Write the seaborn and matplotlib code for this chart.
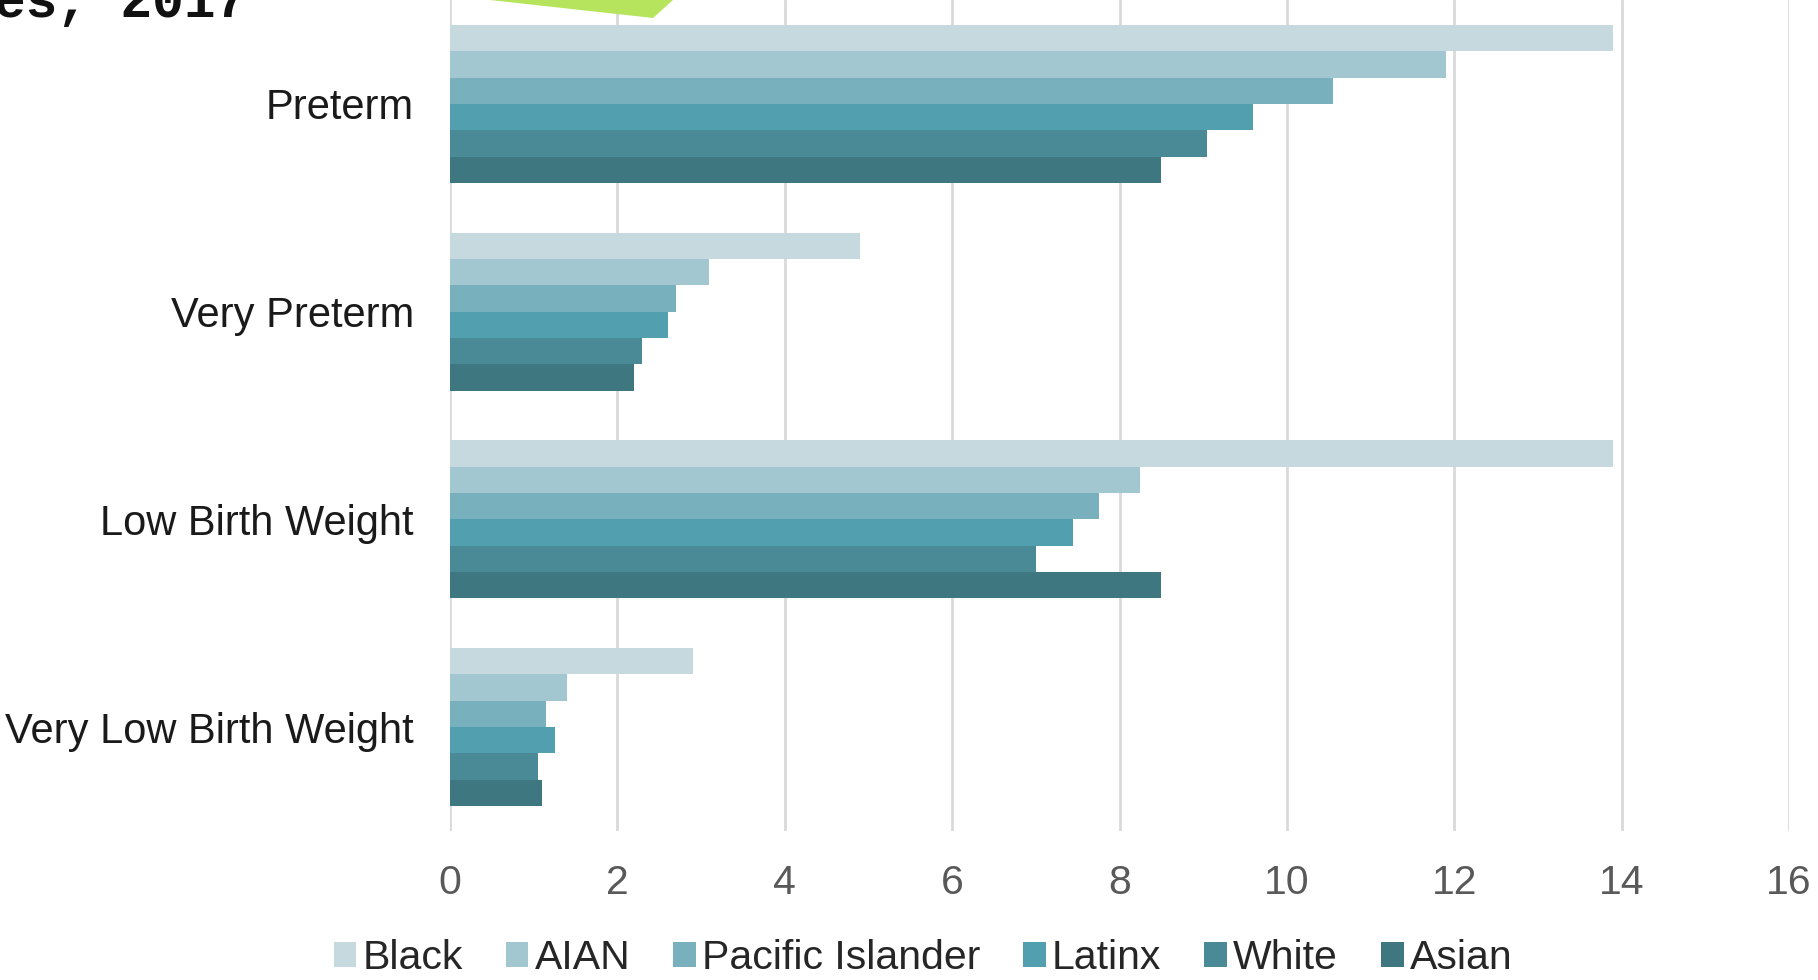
import numpy as np
import pandas as pd
import matplotlib
matplotlib.use("Agg")
import matplotlib.pyplot as plt
from matplotlib.patches import Polygon
import seaborn as sns

# Birth outcome rates (%) by race/ethnicity
outcomes = ["Preterm", "Very Preterm", "Low Birth Weight", "Very Low Birth Weight"]
races = ["Black", "AIAN", "Pacific Islander", "Latinx", "White", "Asian"]

black = [13.9, 4.9, 13.9, 2.9]
aian = [11.9, 3.1, 8.25, 1.4]
pacific_islander = [10.55, 2.7, 7.75, 1.15]
latinx = [9.6, 2.6, 7.45, 1.25]
white = [9.05, 2.3, 7.0, 1.05]
asian = [8.5, 2.2, 8.5, 1.1]

x_ticks = [0, 2, 4, 6, 8, 10, 12, 14, 16]

colors = ["#C5D9DE", "#A3C7D0", "#78B1BD", "#529FAF", "#4A8A97", "#3F7781"]

series = [black, aian, pacific_islander, latinx, white, asian]
df = pd.DataFrame(
    [(o, r, v) for r, vals in zip(races, series) for o, v in zip(outcomes, vals)],
    columns=["outcome", "race", "rate"],
)

sns.set_theme(style="white")
plt.rcParams["font.family"] = ["Liberation Sans", "DejaVu Sans"]

W, H = 1818, 980
fig = plt.figure(figsize=(W / 100, H / 100), dpi=100)
ax = fig.add_axes([450 / W, 1 - 831 / H, (1789 - 450) / W, 831 / H])

sns.barplot(
    data=df, x="rate", y="outcome", hue="race",
    order=outcomes, hue_order=races, palette=colors,
    orient="h", width=0.76, gap=0, saturation=1,
    linewidth=0, ax=ax, legend=True,
)

ax.set_xlim(0, 16)
ax.set_ylim(3.5, -0.5)
ax.set_xticks(x_ticks)
ax.set_xticklabels([str(t) for t in x_ticks])
ax.grid(axis="x", color="#D9D9D9", linewidth=2)
ax.set_axisbelow(True)
for s in ax.spines.values():
    s.set_visible(False)
ax.set_xlabel("")
ax.set_ylabel("")
ax.tick_params(axis="x", length=0, pad=24, labelsize=29.5, labelcolor="#595959")
ax.tick_params(axis="y", length=0, pad=26, labelsize=30, labelcolor="#1A1A1A")

handles, labels = ax.get_legend_handles_labels()
ax.legend(
    handles, labels, loc="center", bbox_to_anchor=(923 / W, 1 - 958 / H),
    bbox_transform=fig.transFigure, ncol=6, frameon=False,
    fontsize=29.5, handlelength=0.55, handleheight=0.55, handletextpad=0.15,
    columnspacing=1.05, borderaxespad=0,
)

# partial slide heading and decorative shape at the top edge
fig.text(-6 / W, 1 - 17 / H, "es, 2017", fontsize=38, fontweight="bold",
         family=["Liberation Mono", "DejaVu Sans Mono"], color="#111111",
         ha="left", va="baseline")
fig.patches.append(Polygon([(490 / W, 1.0), (653 / W, 1 - 18 / H), (673 / W, 1.0)],
                           closed=True, transform=fig.transFigure,
                           facecolor="#B6E45C", edgecolor="none", zorder=0))

fig.savefig("out.png", dpi=100)
